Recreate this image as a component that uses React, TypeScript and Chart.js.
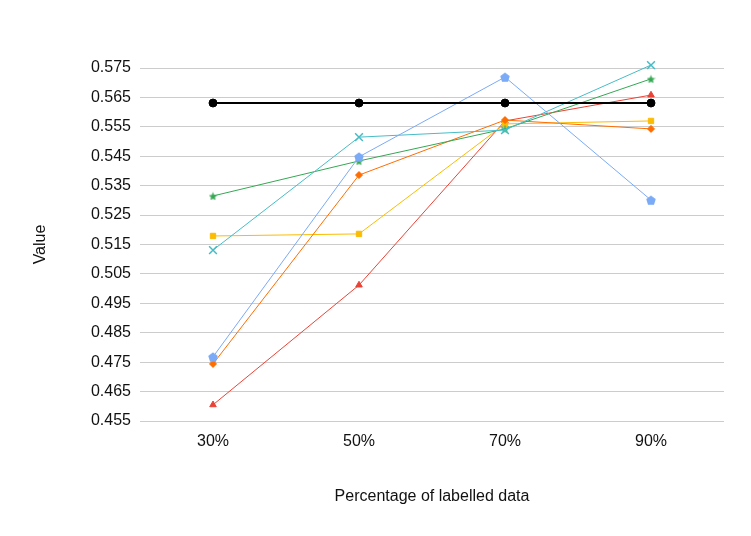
import { useEffect, useRef } from 'react';
import { Chart, registerables } from 'chart.js';
Chart.register(...registerables);

// x categories and y tick labels
const labels = ['30%', '50%', '70%', '90%'];
const yTicks = [0.455, 0.465, 0.475, 0.485, 0.495, 0.505, 0.515, 0.525, 0.535, 0.545, 0.555, 0.565, 0.575];

// series
const reference = [0.5631, 0.5631, 0.5631, 0.5631];
const bluePentagon = [0.4768, 0.5448, 0.5719, 0.5301];
const cyanCross = [0.5131, 0.5515, 0.5539, 0.5760];
const greenStar = [0.5315, 0.5434, 0.5543, 0.5713];
const orangeDiamond = [0.4744, 0.5386, 0.5573, 0.5543];
const yellowSquare = [0.5179, 0.5186, 0.5560, 0.5570];
const redTriangle = [0.4605, 0.5012, 0.5570, 0.5658];

const FONT = '"Liberation Sans", Arial, sans-serif';

// filled star / pentagon markers (chart.js has no such point styles)
function marker(kind: 'star' | 'pentagon', color: string, size: number) {
  const c = document.createElement('canvas');
  c.width = size;
  c.height = size;
  const ctx = c.getContext('2d')!;
  const r = size / 2;
  const n = kind === 'star' ? 10 : 5;
  ctx.beginPath();
  for (let i = 0; i < n; i++) {
    const a = -Math.PI / 2 + (i * 2 * Math.PI) / n;
    const rr = kind === 'star' && i % 2 ? r * 0.45 : r;
    ctx.lineTo(r + rr * Math.cos(a), r + 0.6 + rr * Math.sin(a));
  }
  ctx.closePath();
  ctx.fillStyle = color;
  ctx.fill();
  return c;
}

export default function App() {
  const canvasRef = useRef<HTMLCanvasElement>(null);

  useEffect(() => {
    const line = (data: number[], color: string, pointStyle: any, radius: number, extra: any = {}) => ({
      data,
      borderColor: color,
      backgroundColor: color,
      pointBackgroundColor: color,
      pointBorderColor: color,
      borderWidth: 1,
      pointStyle,
      pointRadius: radius,
      pointBorderWidth: 1,
      clip: false as const,
      ...extra,
    });

    const chart = new Chart(canvasRef.current!, {
      type: 'line',
      data: {
        labels,
        datasets: [
          line(reference, '#000000', 'circle', 4, { borderWidth: 2 }),
          line(bluePentagon, '#7baaf7', marker('pentagon', '#7baaf7', 10), 5),
          line(cyanCross, '#46bdc6', 'crossRot', 5.5, { pointBorderWidth: 1.5 }),
          line(greenStar, '#34a853', marker('star', '#34a853', 9), 4.5),
          line(orangeDiamond, '#ff6d01', 'rectRot', 3.5),
          line(yellowSquare, '#fbbc04', 'rect', 3.8),
          line(redTriangle, '#ea4335', 'triangle', 3.8),
        ],
      },
      options: {
        animation: false,
        responsive: true,
        maintainAspectRatio: false,
        layout: { padding: { top: 68, right: 27, bottom: 0, left: 0 } },
        plugins: { legend: { display: false }, tooltip: { enabled: false } },
        elements: { line: { tension: 0 } },
        scales: {
          x: {
            offset: true,
            grid: { display: false, drawTicks: false },
            border: { display: false },
            ticks: { color: '#111', padding: 11, font: { size: 16, family: FONT } },
            title: {
              display: true,
              text: 'Percentage of labelled data',
              color: '#111',
              font: { size: 16, family: FONT },
              padding: { top: 0, bottom: 30 },
            },
            afterFit: (s: any) => { s.height = 115; },
          },
          y: {
            min: 0.455,
            max: 0.575,
            afterBuildTicks: (s: any) => { s.ticks = yTicks.map((v) => ({ value: v })); },
            grid: { color: '#cccccc', drawTicks: false },
            border: { display: false },
            ticks: {
              color: '#111',
              padding: 9,
              font: { size: 16, family: FONT },
              callback: (v: any) => Number(v).toFixed(3),
            },
            title: {
              display: true,
              text: 'Value',
              color: '#111',
              font: { size: 16, family: FONT },
              padding: { top: 31, bottom: 0 },
            },
            afterFit: (s: any) => { s.width = 140; },
          },
        },
      },
    });

    return () => { chart.destroy(); };
  }, []);

  return (
    <div style={{ position: 'fixed', left: 0, top: 0, width: 751, height: 536, background: '#fff' }}>
      <canvas ref={canvasRef} />
    </div>
  );
}
